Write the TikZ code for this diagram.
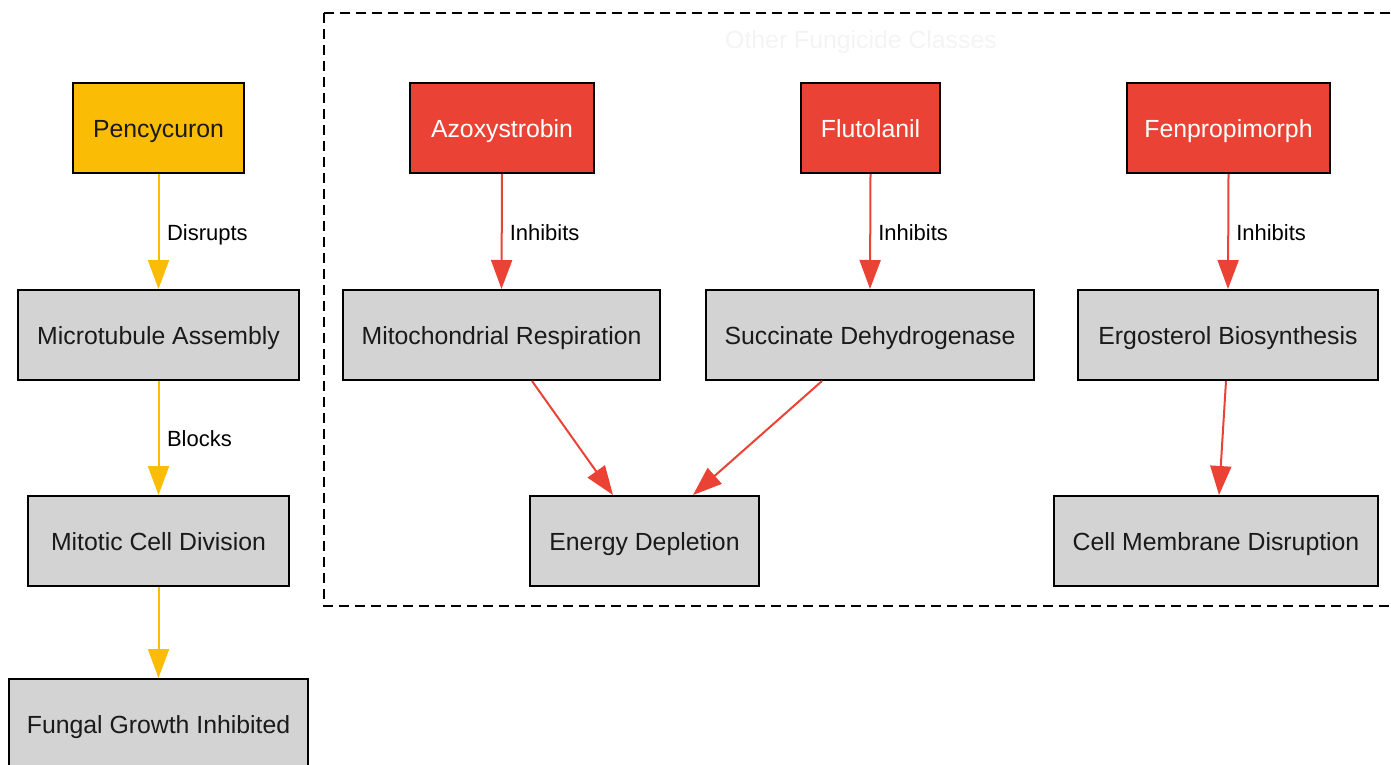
\documentclass[tikz,border=0pt]{standalone}
\usepackage{fontspec}
\setmainfont{Liberation Sans}
\usetikzlibrary{arrows.meta}
\definecolor{gyellow}{HTML}{FBBC05}
\definecolor{gred}{HTML}{EA4335}
\definecolor{boxgray}{HTML}{D3D3D3}
\definecolor{titlecol}{HTML}{F4F4F4}
\definecolor{txt}{HTML}{1A1A1A}
\tikzset{
  box/.style={draw=black, line width=2pt, rectangle, inner sep=0pt, font=\fontsize{24.8}{30}\selectfont, text=txt, text height=24pt, text depth=5.4pt},
  graybox/.style={box, fill=boxgray},
  yellowbox/.style={box, fill=gyellow, text=txt},
  redbox/.style={box, fill=gred, text=white},
  yedge/.style={draw=gyellow, line width=2pt, -{Triangle[length=29pt,width=21pt]}},
  redge/.style={draw=gred, line width=2pt, -{Triangle[length=29pt,width=21pt]}},
  elabel/.style={font=\fontsize{22}{26}\selectfont, text=black, anchor=base west, inner sep=0pt, yshift=-8.5pt},
}
\begin{document}
\begin{tikzpicture}[x=1pt,y=-1pt]
\useasboundingbox (0,0) rectangle (1391,764);
\begin{scope}
\clip (0,0) rectangle (1391,764);
% cluster
\draw[line width=2pt, dash pattern=on 10pt off 6pt] (324,13) rectangle (1400,606);
\node[font=\fontsize{24.8}{30}\selectfont, text=titlecol, text height=24pt, text depth=5.4pt, inner sep=0pt] (title) at (861,39) {Other Fungicide Classes};
% left chain
\node[yellowbox, minimum width=171pt, minimum height=90pt] (pen) at (158.5,128) {Pencycuron};
\node[graybox, minimum width=281pt, minimum height=90pt] (micro) at (158.5,335) {Microtubule Assembly};
\node[graybox, minimum width=261pt, minimum height=90pt] (mitotic) at (158.5,541) {Mitotic Cell Division};
\node[graybox, minimum width=299pt, minimum height=90pt] (fungal) at (158.5,724) {Fungal Growth Inhibited};
% right
\node[redbox, minimum width=184pt, minimum height=90pt] (azo) at (502,128) {Azoxystrobin};
\node[redbox, minimum width=139pt, minimum height=90pt] (flu) at (870.5,128) {Flutolanil};
\node[redbox, minimum width=203pt, minimum height=90pt] (fen) at (1228.5,128) {Fenpropimorph};
\node[graybox, minimum width=317pt, minimum height=90pt] (mito) at (501.5,335) {Mitochondrial Respiration};
\node[graybox, minimum width=328pt, minimum height=90pt] (sdh) at (870,335) {Succinate Dehydrogenase};
\node[graybox, minimum width=300pt, minimum height=90pt] (ergo) at (1228,335) {Ergosterol Biosynthesis};
\node[graybox, minimum width=229pt, minimum height=90pt] (energy) at (644.5,541) {Energy Depletion};
\node[graybox, minimum width=324pt, minimum height=90pt] (cell) at (1216,541) {Cell Membrane Disruption};
% edges
\draw[yedge] (pen.south) -- (micro.north) node[pos=0.5, elabel, xshift=7.5pt] (l1) {Disrupts};
\draw[yedge] (micro.south) -- (mitotic.north) node[pos=0.5, elabel, xshift=7.5pt] (l2) {Blocks};
\draw[yedge] (mitotic.south) -- (fungal.north);
\draw[redge] (azo.south) -- (mito.north) node[pos=0.5, elabel, xshift=7pt] (l3) {Inhibits};
\draw[redge] (flu.south) -- (sdh.north) node[pos=0.5, elabel, xshift=7pt] (l4) {Inhibits};
\draw[redge] (fen.south) -- (ergo.north) node[pos=0.5, elabel, xshift=7pt] (l5) {Inhibits};
\draw[redge] ([xshift=30.5pt]mito.south) -- ([xshift=-31.5pt]energy.north);
\draw[redge] ([xshift=-48pt]sdh.south) -- ([xshift=48.5pt]energy.north);
\draw[redge] ([xshift=-2pt]ergo.south) -- ([xshift=3pt]cell.north);
\end{scope}
\end{tikzpicture}
\end{document}
